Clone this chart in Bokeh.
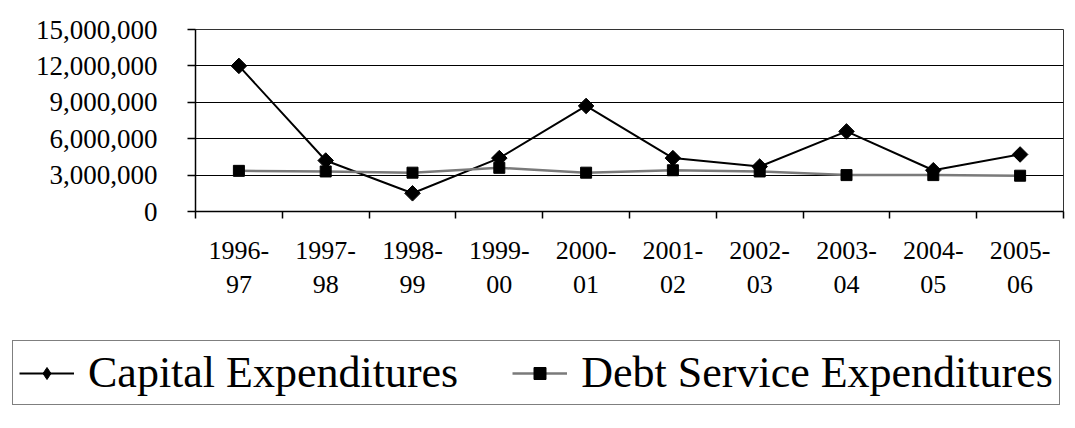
import math
from bokeh.plotting import figure
from bokeh.layouts import column
from bokeh.models import (Range1d, FixedTicker, NumeralTickFormatter, Legend,
                          LegendItem, ColumnDataSource)
from bokeh.embed import file_html
from bokeh.resources import INLINE

# ---- data ----
categories = ["1996-97", "1997-98", "1998-99", "1999-00", "2000-01",
              "2001-02", "2002-03", "2003-04", "2004-05", "2005-06"]
capital = [12000000, 4200000, 1500000, 4400000, 8700000,
           4400000, 3700000, 6600000, 3400000, 4700000]
debt = [3350000, 3300000, 3200000, 3600000, 3200000,
        3400000, 3300000, 3000000, 3000000, 2950000]
y_ticks = [0, 3000000, 6000000, 9000000, 12000000, 15000000]

n = len(categories)
x = [i + 0.5 for i in range(n)]
src = ColumnDataSource(dict(x=x, capital=capital, debt=debt))

FONT = "Liberation Serif"
W = 1067

p = figure(width=W, height=338, output_backend="svg", toolbar_location=None,
           x_range=Range1d(0, n), y_range=Range1d(0, max(y_ticks)),
           min_border_left=195, min_border_right=4, min_border_top=29,
           min_border_bottom=127)
p.frame_align = False
p.background_fill_color = "white"
p.border_fill_color = "white"
p.outline_line_color = "#333333"
p.outline_line_width = 1

# x axis: labels at category centres, tick marks at category boundaries
xa = p.xaxis[0]
xa.ticker = FixedTicker(ticks=x, minor_ticks=list(range(n + 1)))
xa.major_label_overrides = {float(xi): c.replace("-", "-\n") for xi, c in zip(x, categories)}
xa.major_tick_out = 0
xa.major_tick_in = 0
xa.minor_tick_out = 7
xa.minor_tick_in = 0
xa.minor_tick_line_color = "black"
xa.minor_tick_line_width = 1.5
xa.axis_line_color = "black"
xa.axis_line_width = 1.5
xa.major_label_text_font = FONT
xa.major_label_text_font_size = "26px"
xa.major_label_text_color = "black"
xa.major_label_standoff = 17

ya = p.yaxis[0]
ya.ticker = FixedTicker(ticks=y_ticks, minor_ticks=[])
ya.formatter = NumeralTickFormatter(format="0,0")
ya.major_tick_out = 8
ya.major_tick_in = 0
ya.major_tick_line_color = "black"
ya.major_tick_line_width = 1.5
ya.axis_line_color = "black"
ya.axis_line_width = 1.5
ya.major_label_text_font = FONT
ya.major_label_text_font_size = "27px"
ya.major_label_text_color = "black"
ya.major_label_standoff = 30

p.xgrid.visible = False
p.ygrid.ticker = FixedTicker(ticks=y_ticks, minor_ticks=[])
p.ygrid.grid_line_color = "black"
p.ygrid.grid_line_width = 1.2

cap_line = dict(line_color="black", line_width=2)
cap_mark = dict(marker="square", angle=math.pi / 4, size=11,
                fill_color="black", line_color="black")
debt_line = dict(line_color="#7a7a7a", line_width=2.5)
debt_mark = dict(marker="square", size=11, fill_color="black", line_color="black")

p.line("x", "capital", source=src, **cap_line)
p.scatter("x", "capital", source=src, **cap_mark)
p.line("x", "debt", source=src, **debt_line)
p.scatter("x", "debt", source=src, **debt_mark)

# ---- legend strip (separate figure so the box can span the full width) ----
p2 = figure(width=W, height=82, output_backend="svg", toolbar_location=None,
            x_range=Range1d(1000, 1001), y_range=Range1d(0, 1),
            x_axis_location=None, y_axis_location=None,
            min_border_left=0, min_border_right=0, min_border_top=0,
            min_border_bottom=0)
p2.frame_align = False
p2.outline_line_color = None
p2.grid.visible = False
p2.background_fill_color = "white"
p2.border_fill_color = "white"

l1 = p2.line("x", "capital", source=src, **cap_line)
m1 = p2.scatter("x", "capital", source=src, marker="diamond", size=16,
                fill_color="black", line_color="black")
l2 = p2.line("x", "debt", source=src, **debt_line)
m2 = p2.scatter("x", "debt", source=src, **debt_mark)

legend = Legend(items=[LegendItem(label="Capital Expenditures", renderers=[l1, m1]),
                       LegendItem(label="Debt Service Expenditures", renderers=[l2, m2])],
                location=(12, 15), orientation="horizontal")
legend.label_text_font = FONT
legend.label_text_font_size = "44px"
legend.label_text_color = "black"
legend.glyph_width = 55
legend.glyph_height = 30
legend.label_standoff = 14
legend.spacing = 54
legend.padding = 6
legend.margin = 0
legend.border_line_color = "black"
legend.border_line_width = 1.5
legend.background_fill_color = "white"
legend.background_fill_alpha = 1
p2.add_layout(legend)

layout = column(p, p2, spacing=0)
open("out.html", "w").write(file_html(layout, INLINE))
